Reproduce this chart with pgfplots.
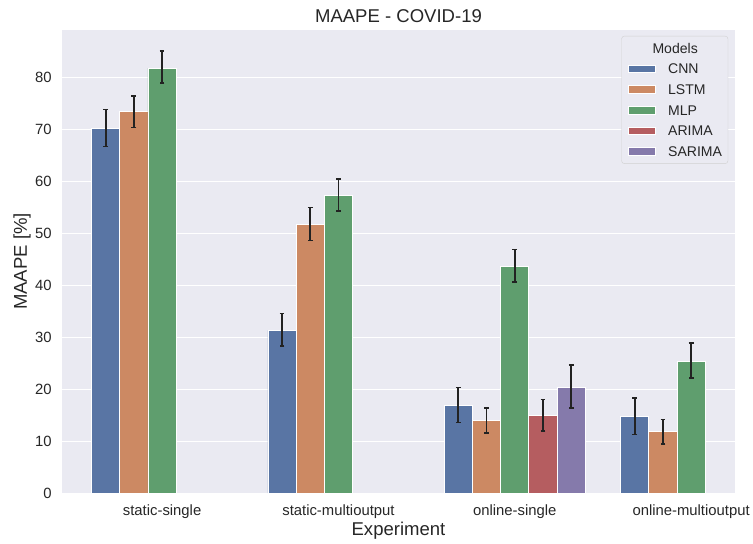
\documentclass[border=0pt]{standalone}
\usepackage{fontspec}
\setmainfont{Liberation Sans}
\usepackage{pgfplots}
\pgfplotsset{compat=1.18}
\usepackage{pgfplotstable}
\definecolor{bg}{HTML}{EAEAF2}
\definecolor{cnn}{HTML}{5975A4}
\definecolor{lstm}{HTML}{CC8963}
\definecolor{mlp}{HTML}{5F9E6E}
\definecolor{arima}{HTML}{B55D60}
\definecolor{sarima}{HTML}{857AAB}
\definecolor{txt}{HTML}{262626}
\definecolor{ebc}{HTML}{222222}

\pgfplotstableread{
x y ep em
0 70.2 3.6 3.5
1 31.3 3.3 3.0
2 16.8 3.5 3.2
3 14.8 3.5 3.5
}\cnntab
\pgfplotstableread{
x y ep em
0 73.4 3.0 3.0
1 51.7 3.3 3.1
2 13.9 2.5 2.3
3 11.8 2.4 2.4
}\lstmtab
\pgfplotstableread{
x y ep em
0 81.8 3.3 2.9
1 57.3 3.2 3.0
2 43.7 3.2 3.1
3 25.4 3.5 3.3
}\mlptab
\pgfplotstableread{
x y ep em
2 15.0 3.0 3.0
}\arimatab
\pgfplotstableread{
x y ep em
2 20.4 4.2 4.0
}\sarimatab

\pgfplotsset{
  mybar/.style={fill=#1, draw=white, line width=0.8bp,
    legend image code/.code={\fill[##1, sharp corners] (0bp,-3.85bp) rectangle (28bp,3.85bp);}},
  myerr/.style={error bars/.cd, y dir=both, y explicit,
    error bar style={line width=1.8bp, color=ebc},
    error mark options={rotate=90, mark size=2.4bp, line width=1.6bp, color=ebc}},
}

\begin{document}
\begin{tikzpicture}
\begin{axis}[name=ax, scale only axis, width=676bp, height=465bp,
  xmin=-0.569, xmax=3.25, ymin=0, ymax=89.15,
  ybar, bar width=0.16,
  axis background/.style={fill=bg},
  axis line style={draw=none},
  major tick length=0pt,
  ymajorgrids, grid style={white, line width=1.1bp},
  xtick={0,1,2,3},
  xticklabels={static-single,static-multioutput,online-single,online-multioutput},
  ytick={0,10,...,80},
  /pgf/number format/assume math mode=true,
  tick label style={font=\fontsize{14.9bp}{17bp}\selectfont, text=txt},
  xticklabel style={anchor=base, yshift=-22bp},
  yticklabel style={anchor=east, inner xsep=0pt, xshift=-10bp},
  title={MAAPE - COVID-19},
  xlabel={Experiment},
  ylabel={MAAPE [\%]},
  every axis title/.style={at={(rel axis cs:0.5,1)}, anchor=base, yshift=7bp,
    font=\fontsize{18.6bp}{22bp}\selectfont, text=txt},
  every axis x label/.style={at={(rel axis cs:0.5,0)}, anchor=base, yshift=-43bp,
    font=\fontsize{18.6bp}{22bp}\selectfont, text=txt},
  every axis y label/.style={at={(rel axis cs:0,0.5)}, xshift=-35bp, rotate=90, anchor=base,
    font=\fontsize{18.6bp}{22bp}\selectfont, text=txt},
  legend cell align=left,
  legend style={at={(0.9896,0.9871)}, anchor=north east, draw=black!18, fill=bg,
    rounded corners=3bp, text=txt,
    inner xsep=6bp, inner ysep=7bp, row sep=10.7bp, column sep=12bp,
    nodes={font=\fontsize{14.1bp}{16bp}\selectfont, inner xsep=0bp, inner ysep=0bp, text height=10.1bp, text depth=0bp}},
]
\addlegendimage{empty legend}
\addplot[mybar=cnn, bar shift=-0.32, myerr] table[x=x, y=y, y error plus=ep, y error minus=em] {\cnntab};
\addplot[mybar=lstm, bar shift=-0.16, myerr] table[x=x, y=y, y error plus=ep, y error minus=em] {\lstmtab};
\addplot[mybar=mlp, bar shift=0, myerr] table[x=x, y=y, y error plus=ep, y error minus=em] {\mlptab};
\addplot[mybar=arima, bar shift=0.16, myerr] table[x=x, y=y, y error plus=ep, y error minus=em] {\arimatab};
\addplot[mybar=sarima, bar shift=0.32, myerr] table[x=x, y=y, y error plus=ep, y error minus=em] {\sarimatab};
\legend{\hspace*{-15.7bp}Models, CNN, LSTM, MLP, ARIMA, SARIMA}
\end{axis}
\path ([xshift=-62bp,yshift=-49bp]ax.south west) rectangle ([xshift=15bp,yshift=30bp]ax.north east);
\end{tikzpicture}
\end{document}
